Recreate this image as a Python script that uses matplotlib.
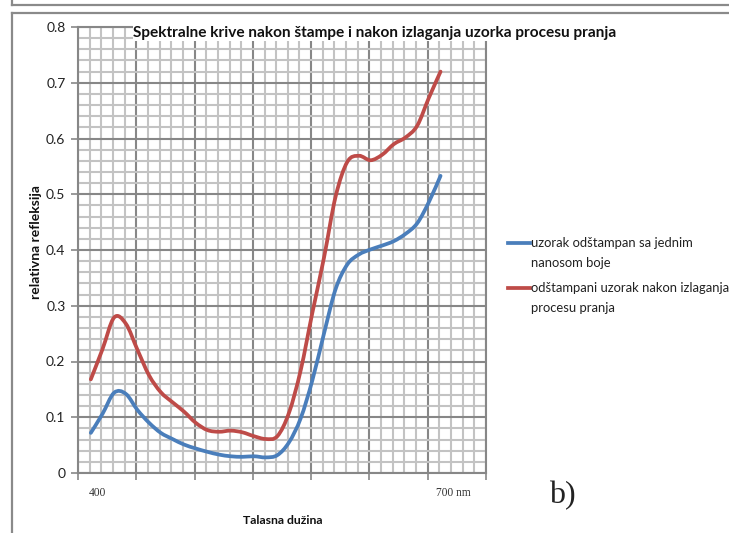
import matplotlib
matplotlib.use("Agg")
import matplotlib.pyplot as plt
from matplotlib.path import Path
from matplotlib.patches import PathPatch
from matplotlib.lines import Line2D
from matplotlib.ticker import FixedLocator, MultipleLocator, FuncFormatter, NullFormatter
import numpy as np

# ---- data ----
wavelength = list(range(400, 701, 10))
blue_values = [0.072, 0.106, 0.144, 0.142, 0.113, 0.090, 0.072, 0.061, 0.051, 0.044,
               0.038, 0.033, 0.030, 0.029, 0.030, 0.028, 0.032, 0.055, 0.098, 0.166,
               0.250, 0.330, 0.374, 0.392, 0.401, 0.408, 0.416, 0.429, 0.448, 0.486,
               0.533]
red_values = [0.168, 0.222, 0.279, 0.268, 0.221, 0.175, 0.145, 0.127, 0.110, 0.090,
              0.077, 0.074, 0.076, 0.073, 0.066, 0.061, 0.066, 0.108, 0.184, 0.287,
              0.386, 0.496, 0.558, 0.569, 0.561, 0.571, 0.590, 0.602, 0.623, 0.673,
              0.720]
series_names = ["uzorak odštampan sa jednim\nnanosom boje",
                "odštampani uzorak nakon izlaganja\nprocesu pranja"]
series_colors = ["#4A7EBB", "#BE4B48"]
title_text = "Spektralne krive nakon štampe i nakon izlaganja uzorka procesu pranja"
ylabel_text = "relativna refleksija"
xlabel_text = "Talasna dužina"
x_first_label = "400"
x_last_label = "700 nm"
panel_label = "b)"
y_ticks = [0.0, 0.1, 0.2, 0.3, 0.4, 0.5, 0.6, 0.7, 0.8]

FONT = ["Lato", "DejaVu Sans"]
plt.rcParams["font.family"] = FONT

W, H = 729, 533
fig = plt.figure(figsize=(W / 100, H / 100), dpi=100)


def fx(px):
    return px / W


def fy(py):
    return 1 - py / H


# outer chart border (left and top edges visible; right/bottom run off the picture)
border_col = "#8a8a8a"
fig.add_artist(Line2D([fx(12), fx(728)], [fy(13), fy(13)], transform=fig.transFigure,
                      color=border_col, lw=1.6))
fig.add_artist(Line2D([fx(12), fx(12)], [fy(13), 0.0], transform=fig.transFigure,
                      color=border_col, lw=1.6))
fig.add_artist(Line2D([fx(12), fx(728)], [fy(4.5), fy(4.5)], transform=fig.transFigure,
                      color=border_col, lw=1.6))
fig.add_artist(Line2D([fx(12), fx(12)], [fy(4.5), 1.0], transform=fig.transFigure,
                      color=border_col, lw=1.6))

ax = fig.add_axes([fx(78), fy(473), fx(486) - fx(78), fy(27) - fy(473)])
ax.set_xlim(389, 739)
ax.set_ylim(0, 0.8)

major_col = "#878787"
minor_col = "#c3c3c3"
ax.xaxis.set_major_locator(FixedLocator([389 + 50 * k for k in range(8)]))
ax.xaxis.set_minor_locator(FixedLocator([389 + 10 * k for k in range(36)]))
ax.yaxis.set_major_locator(FixedLocator(y_ticks))
ax.yaxis.set_minor_locator(MultipleLocator(0.02))
ax.xaxis.set_major_formatter(NullFormatter())
ax.yaxis.set_major_formatter(FuncFormatter(lambda v, p: "0" if abs(v) < 1e-9 else f"{v:.1f}"))
ax.grid(which="minor", color=minor_col, lw=1.5)
ax.grid(which="major", color=major_col, lw=1.5)
ax.set_axisbelow(True)
ax.tick_params(which="major", length=5, width=1.2, color=major_col, labelsize=10,
               labelcolor="#222222", pad=4)
ax.tick_params(which="minor", length=0)
for s in ax.spines.values():
    s.set_color(major_col)
    s.set_linewidth(1.5)


def smooth_path(xs, ys):
    xs = np.asarray(xs, float)
    ys = np.asarray(ys, float)
    pts = np.column_stack([xs, ys])
    verts = [pts[0]]
    codes = [Path.MOVETO]
    n = len(pts)
    for i in range(n - 1):
        p0 = pts[i - 1] if i > 0 else pts[i]
        p1 = pts[i]
        p2 = pts[i + 1]
        p3 = pts[i + 2] if i + 2 < n else pts[i + 1]
        c1 = p1 + (p2 - p0) / 6.0
        c2 = p2 - (p3 - p1) / 6.0
        verts += [c1, c2, p2]
        codes += [Path.CURVE4] * 3
    return Path(verts, codes)


for vals, col in zip([blue_values, red_values], series_colors):
    ax.add_patch(PathPatch(smooth_path(wavelength, vals), fill=False, edgecolor=col,
                           lw=2.7, capstyle="round", joinstyle="round", zorder=3))

# title
fig.text(fx(375), fy(33), title_text, ha="center", va="center", fontsize=11.1,
         fontweight="bold", color="#111111",
         bbox=dict(facecolor="white", edgecolor="none", pad=0.5))

# axis labels
fig.text(fx(36), fy(242), ylabel_text, rotation=90, ha="center", va="center",
         fontsize=10, fontweight="bold", color="#111111")
fig.text(fx(283), fy(521), xlabel_text, ha="center", va="center",
         fontsize=8.8, fontweight="bold", color="#111111")

# x end labels (serif)
serif = ["Liberation Serif", "DejaVu Serif"]
fig.text(fx(97), fy(493), x_first_label, ha="center", va="center", fontsize=8.3,
         family=serif, color="#333333")
fig.text(fx(453), fy(493), x_last_label, ha="center", va="center", fontsize=8.3,
         family=serif, color="#333333")
fig.text(fx(562), fy(496), panel_label, ha="center", va="center", fontsize=23,
         family=serif, color="#222222")

# legend
leg_y = [243, 288]
for name, col, yy in zip(series_names, series_colors, leg_y):
    fig.add_artist(Line2D([fx(508), fx(530)], [fy(yy), fy(yy)], transform=fig.transFigure,
                          color=col, lw=2.7))
    first, second = name.split("\n")
    fig.text(fx(531), fy(yy), first, ha="left", va="center", fontsize=9.4, color="#222222")
    fig.text(fx(531), fy(yy + 20), second, ha="left", va="center", fontsize=9.4, color="#222222")

fig.savefig("out.png", dpi=100)
